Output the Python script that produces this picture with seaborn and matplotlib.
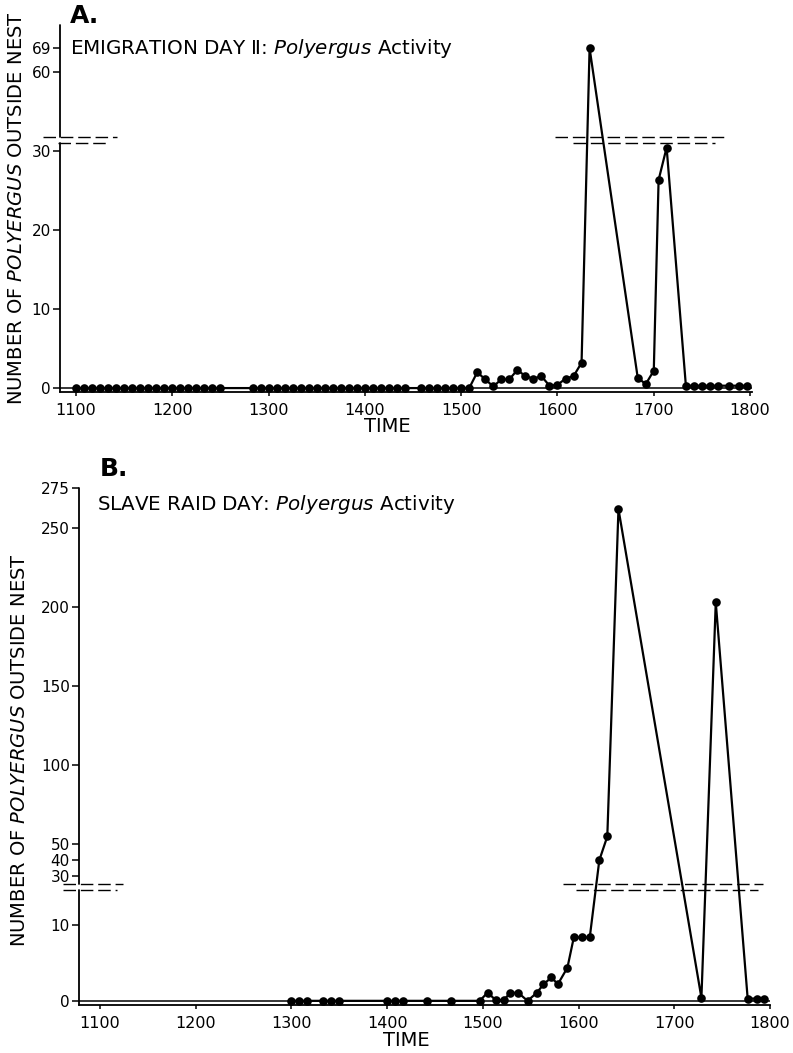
import numpy as np
import pandas as pd
import matplotlib.pyplot as plt
import seaborn as sns

sns.set_style("ticks")
plt.rcParams['font.family'] = 'DejaVu Sans'
plt.rcParams['text.color'] = 'black'
plt.rcParams['axes.edgecolor'] = 'black'
plt.rcParams['xtick.color'] = 'black'
plt.rcParams['ytick.color'] = 'black'

# Panel A - Emigration day II (clock time HHMM, number of Polyergus outside nest)
times_a = [1100, 1105, 1110, 1115, 1120, 1125, 1130, 1135, 1140, 1145, 1150, 1155,
           1200, 1205, 1210, 1215, 1220, 1225, 1230,
           1250, 1255, 1300, 1305, 1310, 1315, 1320, 1325, 1330, 1335, 1340, 1345,
           1350, 1355, 1400, 1405, 1410, 1415, 1420, 1425,
           1435, 1440, 1445, 1450, 1455, 1500, 1505,
           1510, 1515, 1520, 1525, 1530, 1535, 1540, 1545, 1550, 1555, 1600, 1605,
           1610, 1615, 1620,
           1650, 1655, 1700, 1703, 1708, 1720, 1725, 1730, 1735, 1740, 1747, 1753, 1758]
counts_a = [0, 0, 0, 0, 0, 0, 0, 0, 0, 0, 0, 0,
            0, 0, 0, 0, 0, 0, 0,
            0, 0, 0, 0, 0, 0, 0, 0, 0, 0, 0, 0,
            0, 0, 0, 0, 0, 0, 0, 0,
            0, 0, 0, 0, 0, 0, 0,
            2.0, 1.1, 0.2, 1.1, 1.1, 2.3, 1.5, 1.2, 1.5, 0.3, 0.4, 1.2,
            1.5, 3.2, 69,
            1.3, 0.5, 2.2, 26.3, 30.4, 0.3, 0.3, 0.3, 0.3, 0.3, 0.3, 0.3, 0.3]

# Panel B - Slave raid day
times_b = [1300, 1305, 1310, 1320, 1325, 1330, 1400, 1405, 1410, 1425, 1440,
           1458, 1503, 1508, 1513, 1517, 1522, 1528, 1534, 1538, 1543, 1547,
           1553, 1557, 1602, 1607, 1613, 1618, 1625,
           1717, 1726, 1746, 1752, 1756]
counts_b = [0, 0, 0, 0, 0, 0, 0, 0, 0, 0, 0,
            0, 1.1, 0.1, 0.1, 1.0, 1.1, 0, 1.1, 2.2, 3.1, 2.2,
            4.4, 8.4, 8.4, 8.4, 40, 55, 262,
            0.4, 203, 0.3, 0.3, 0.3]

yticks_a = [0, 10, 20, 30, 60, 69]
yticks_b = [0, 10, 30, 40, 50, 100, 150, 200, 250, 275]
xtick_hours = [11, 12, 13, 14, 15, 16, 17, 18]
xtick_labels = ["1100", "1200", "1300", "1400", "1500", "1600", "1700", "1800"]


def to_hours(t):
    t = np.asarray(t)
    return t // 100 + (t % 100) / 60.0


fig = plt.figure(figsize=(7.93, 10.53), dpi=100)

panels = [
    dict(times=times_a, counts=counts_a, rect=[0.0757, 0.6277, 0.8726, 0.3485],
         xlim=(10.834, 18.02), ylim=(-0.5, 77.6), brk=(31, 36), slopes=(7.87, 2.67),
         yticks=yticks_a,
         left_dash=[((10.657, 11.426), 36), ((10.813, 11.332), 31)],
         right_dash=[((15.974, 17.739), 36), ((16.161, 17.636), 31)],
         letter="A.", letter_xy=(70, 16),
         title="EMIGRATION DAY \u2161: $\\it{Polyergus}$ Activity", title_xy=(70, 48),
         ylab_xy=(17, 208), time_xy=(387, 426)),
    dict(times=times_b, counts=counts_b, rect=[0.0996, 0.0456, 0.8714, 0.491],
         xlim=(10.78, 18.0), ylim=(-0.55, 275.3), brk=(14.7, 25), slopes=(7.57, 1.587),
         yticks=yticks_b,
         left_dash=[((10.613, 11.24), 25), ((10.613, 11.178), 14.7)],
         right_dash=[((15.838, 17.928), 25), ((15.974, 17.876), 14.7)],
         letter="B.", letter_xy=(100, 469),
         title="SLAVE RAID DAY: $\\it{Polyergus}$ Activity", title_xy=(97, 505),
         ylab_xy=(20, 750), time_xy=(406, 1040)),
]

W, H = 793, 1053
for p in panels:
    ax = fig.add_axes(p["rect"])
    df = pd.DataFrame({"hour": to_hours(p["times"]), "count": p["counts"]})
    ax.axhline(0, color="black", lw=1.1, zorder=1)
    sns.lineplot(data=df, x="hour", y="count", ax=ax, color="black", marker="o",
                 markersize=6.2, markeredgewidth=0, linewidth=1.6, errorbar=None)

    # piecewise linear y scale: stretched below the break, compressed above it
    lo_top, hi_bot = p["brk"]
    lo_s, hi_s = p["slopes"]
    d_lo = lo_top * lo_s
    d_hi = d_lo + 6.0
    kv = np.array([-1000.0, lo_top, hi_bot, 5000.0])
    kd = np.array([-1000.0 * lo_s, d_lo, d_hi, d_hi + (5000.0 - hi_bot) * hi_s])
    ax.set_yscale("function", functions=(lambda v, kv=kv, kd=kd: np.interp(v, kv, kd),
                                         lambda d, kv=kv, kd=kd: np.interp(d, kd, kv)))

    x0 = p["xlim"][0]
    ylo, yhi = p["ylim"]
    # broken left spine and break marks
    ax.plot([x0, x0], [ylo, lo_top], color="black", lw=1.3, clip_on=False)
    ax.plot([x0, x0], [hi_bot, yhi], color="black", lw=1.3, clip_on=False)
    for (xa, xb), yv in p["left_dash"] + p["right_dash"]:
        ax.plot([xa, xb], [yv, yv], color="black", lw=1.0, ls=(0, (9, 3.5)),
                clip_on=False)

    ax.set_xlim(*p["xlim"])
    ax.set_ylim(ylo, yhi)
    ax.set_yticks(p["yticks"])
    ax.set_yticklabels([str(v) for v in p["yticks"]])
    ax.set_xticks(xtick_hours)
    ax.set_xticklabels(xtick_labels)
    ax.minorticks_off()
    ax.set_xlabel("")
    ax.set_ylabel("")
    sns.despine(ax=ax)
    ax.spines["left"].set_visible(False)
    ax.spines["bottom"].set_linewidth(1.3)
    ax.tick_params(axis="y", length=5, width=1.1, pad=1.5, labelsize=11)
    ax.tick_params(axis="x", length=3, width=1.1, pad=5, labelsize=11.5)

    fig.text(p["letter_xy"][0] / W, 1 - p["letter_xy"][1] / H, p["letter"],
             fontsize=18, fontweight="bold", va="center", ha="left")
    fig.text(p["title_xy"][0] / W, 1 - p["title_xy"][1] / H, p["title"],
             fontsize=14.3, va="center", ha="left")
    fig.text(p["ylab_xy"][0] / W, 1 - p["ylab_xy"][1] / H,
             "NUMBER OF $\\it{POLYERGUS}$ OUTSIDE NEST", fontsize=14,
             rotation=90, va="center", ha="center")
    fig.text(p["time_xy"][0] / W, 1 - p["time_xy"][1] / H, "TIME",
             fontsize=14, va="center", ha="center")

fig.savefig("out.png", dpi=100)
